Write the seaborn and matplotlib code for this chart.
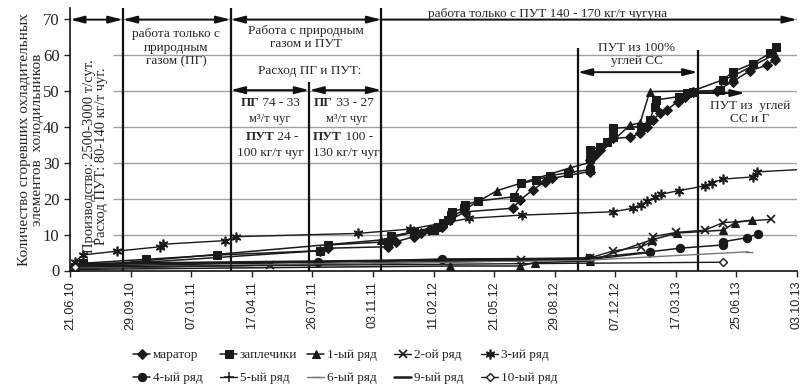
import pandas as pd
import matplotlib
matplotlib.use('Agg')
import matplotlib.pyplot as plt
import matplotlib.dates as mdates
import seaborn as sns

start = pd.Timestamp('2010-06-21')

# day offsets (from 21.06.10) and cumulative number of burnt cooling elements
marator_days = [8, 413, 426, 525, 538, 568, 579, 592, 614, 627, 652, 731, 743, 764, 784, 795,
                858, 858, 866, 875, 896, 924, 941, 952, 962, 974, 985, 1003, 1015, 1028, 1068,
                1094, 1122, 1150, 1163]
marator_vals = [1, 5.5, 6.2, 6.6, 8, 9.4, 10.4, 11.2, 12.2, 14, 16.3, 17.3, 19.6, 22.4, 24.7, 25.6,
                27.5, 30.7, 32, 33.5, 36.7, 37, 38.1, 40, 41.8, 43.7, 44.6, 46.9, 48.3, 49.7, 50,
                52.5, 55.5, 57, 58.5]

zaplechiki_days = [8, 21, 125, 243, 413, 426, 525, 530, 568, 601, 607, 615, 624, 629, 631, 650,
                   652, 673, 733, 745, 769, 792, 822, 858, 858, 858, 875, 886, 896, 896, 943, 957,
                   965, 968, 1005, 1018, 1028, 1073, 1078, 1094, 1127, 1155, 1166]
zaplechiki_vals = [1, 2, 3.1, 4.3, 5.5, 7.1, 8, 9.5, 10.8, 11.2, 12.2, 13.1, 14, 15.4, 16.3, 17.3,
                   18.2, 19.3, 20.5, 24.2, 25.1, 26.3, 27.2, 28, 31, 33.5, 34.4, 35.8, 37.2, 39.5, 40,
                   41.8, 45.5, 47.4, 48.3, 49.2, 49.7, 50.1, 52.9, 55.2, 57.5, 60.3, 62.2]

# upper line with triangle markers (no legend entry in the source)
upper_days = [8, 514, 600, 705, 825, 858, 924, 941, 957, 1028, 1094, 1163]
upper_vals = [1, 8.5, 12, 22.2, 28.5, 30, 40.4, 41, 49.7, 49.9, 54, 60]

row1_days = [8, 627, 743, 767, 858, 960, 1002, 1078, 1098, 1125]
row1_vals = [0.3, 1.25, 1.25, 2.2, 2.6, 8.5, 10.4, 11.2, 13.3, 14]

row2_days = [8, 330, 744, 858, 896, 943, 960, 962, 1001, 1048, 1078, 1157]
row2_vals = [0.7, 1.5, 2.9, 3.5, 5.4, 6.6, 8, 9.4, 10.6, 11.2, 13.3, 14.2]

row3_days = [8, 21, 78, 149, 154, 256, 274, 475, 561, 659, 746, 896, 929, 943, 953, 965, 976,
             1005, 1048, 1059, 1078, 1127, 1134, 1200]
row3_vals = [2.4, 4.3, 5.4, 6.6, 7.3, 8.3, 9.4, 10.3, 11.5, 14.5, 15.4, 16.3, 17.3, 18.2, 19.3,
             20.3, 21.2, 22.2, 23.5, 24.4, 25.4, 26, 27.4, 28]

row4_days = [8, 410, 614, 856, 957, 1007, 1078, 1078, 1117, 1135]
row4_vals = [1.2, 2.3, 3.2, 3.4, 5.2, 6.2, 7.1, 8, 9.1, 10.1]

row5_days = [8, 858, 957]
row5_vals = [0.6, 3.0, 5.0]

row6_days = [8, 858, 1120]
row6_vals = [0.8, 2.9, 5.2]

row9_days = [8, 858]
row9_vals = [1.8, 3.3]

row10_days = [8, 1078]
row10_vals = [1.0, 2.3]

legend_order = ['маратор', 'заплечики', '1-ый ряд', '2-ой ряд', '3-ий ряд',
                '4-ый ряд', '5-ый ряд', '6-ый ряд', '9-ый ряд', '10-ый ряд']

series = [
    ('маратор', marator_days, marator_vals),
    ('заплечики', zaplechiki_days, zaplechiki_vals),
    ('_upper', upper_days, upper_vals),
    ('1-ый ряд', row1_days, row1_vals),
    ('2-ой ряд', row2_days, row2_vals),
    ('3-ий ряд', row3_days, row3_vals),
    ('4-ый ряд', row4_days, row4_vals),
    ('5-ый ряд', row5_days, row5_vals),
    ('6-ый ряд', row6_days, row6_vals),
    ('9-ый ряд', row9_days, row9_vals),
    ('10-ый ряд', row10_days, row10_vals),
]

ink = '#1a1a1a'
styles = {
    'маратор': dict(marker='D', markersize=5, lw=1.1),
    'заплечики': dict(marker='s', markersize=6, lw=1.1),
    '_upper': dict(marker='^', markersize=6, lw=1.1),
    '1-ый ряд': dict(marker='^', markersize=5.5, lw=1.1),
    '2-ой ряд': dict(marker='x', markersize=6, mew=1.2, lw=1.0),
    '3-ий ряд': dict(marker=(6, 2, 0), markersize=7, mew=1.2, lw=1.0),
    '4-ый ряд': dict(marker='o', markersize=6, lw=1.1),
    '5-ый ряд': dict(marker='+', markersize=7, mew=1.1, lw=1.0),
    '6-ый ряд': dict(marker='_', markersize=6, mew=1.0, lw=1.0, color='#777777', mec='#777777'),
    '9-ый ряд': dict(marker='', lw=1.8),
    '10-ый ряд': dict(marker='D', markersize=4.5, mfc='white', mew=1.0, lw=1.0),
}

sns.set_theme(style='white')
plt.rcParams['font.family'] = ['Liberation Serif', 'DejaVu Serif']

fig = plt.figure(figsize=(8.06, 3.88), dpi=100)
ax = fig.add_axes([70 / 806, 117.5 / 388, 727 / 806, 262.4 / 388])

def d(n):
    return start + pd.Timedelta(days=n)

for name, days, vals in series:
    df = pd.DataFrame({'date': [d(n) for n in days], 'value': vals})
    kw = dict(styles[name])
    kw.setdefault('color', ink)
    kw.setdefault('mec', ink)
    if name == '3-ий ряд':
        kw['markevery'] = list(range(len(days) - 1))
    sns.lineplot(data=df, x='date', y='value', ax=ax, estimator=None, sort=False,
                 label=name, zorder=3, **kw)

handles, labels = ax.get_legend_handles_labels()
if ax.get_legend() is not None:
    ax.get_legend().remove()

ymax = 72.9
ax.set_xlim(d(0), d(1200))
ax.set_ylim(0, ymax)

# horizontal grid (hidden behind the rotated note at the left)
ax.hlines(range(10, 80, 10), d(71), d(1200), color='#a0a0a0', lw=1.0, zorder=0)

# vertical period separators
for day, top in [(87, ymax), (265, ymax), (395, 52.5), (514, ymax), (838, 61.8), (1036, 61.2)]:
    ax.vlines(d(day), 0, top, color='#111111', lw=1.6, zorder=2)

arrow2 = dict(arrowstyle='<|-|>,head_length=0.7,head_width=0.18', color='#111111', lw=1.4,
              shrinkA=0, shrinkB=0)
arrow1 = dict(arrowstyle='-|>,head_length=0.7,head_width=0.18', color='#111111', lw=1.4,
              shrinkA=0, shrinkB=0)
for a, b, y in [(0, 87, 69.7), (87, 265, 69.7), (265, 514, 69.7),
                (265, 395, 50.1), (395, 514, 50.1), (838, 1036, 55.1)]:
    ax.annotate('', xy=(d(b), y), xytext=(d(a), y), arrowprops=arrow2, zorder=4)
for a, b, y in [(514, 1200, 69.7), (1036, 1114, 49.3)]:
    ax.annotate('', xy=(d(b), y), xytext=(d(a), y), arrowprops=arrow1, zorder=4)

fs = 9.5
ax.text(d(175), 61.9, 'работа только с\nприродным\nгазом (ПГ)', ha='center', va='center',
        fontsize=fs, linespacing=1.15)
ax.text(d(390), 64.7, 'Работа с природным\nгазом и ПУТ', ha='center', va='center',
        fontsize=fs, linespacing=1.15)
ax.text(d(396), 55.4, 'Расход ПГ и ПУТ:', ha='center', va='center', fontsize=fs)
ax.text(d(789), 71.3, 'работа только с ПУТ 140 - 170 кг/т чугуна', ha='center', va='center',
        fontsize=fs)
ax.text(d(936), 60.0, 'ПУТ из 100%\nуглей СС', ha='center', va='center', fontsize=fs,
        linespacing=1.15)
ax.text(d(1122), 43.9, 'ПУТ из  углей\nСС и Г', ha='center', va='center', fontsize=fs,
        linespacing=1.15)

# two consumption boxes with bold prefixes
for split1, split3, center, l1, l3, l4 in [
        (312, 337, 330, ' 74 - 33', ' 24 -', '100 кг/т чуг'),
        (434, 449, 456, ' 33 - 27', ' 100 -', '130 кг/т чуг')]:
    ax.text(d(split1), 46.5, 'ПГ', ha='right', va='center', fontsize=fs, fontweight='bold')
    ax.text(d(split1), 46.5, l1, ha='left', va='center', fontsize=fs)
    ax.text(d(center), 42.2, 'м³/т чуг', ha='center', va='center', fontsize=fs - 0.5)
    ax.text(d(split3), 37.1, 'ПУТ', ha='right', va='center', fontsize=fs, fontweight='bold')
    ax.text(d(split3), 37.1, l3, ha='left', va='center', fontsize=fs)
    ax.text(d(center), 32.6, l4, ha='center', va='center', fontsize=fs)

ax.text(d(42), 31.8, 'Производство: 2500-3000 т/сут.\nРасход ПУТ: 80-140 кг/т чуг.',
        rotation=90, ha='center', va='center', fontsize=10.5, linespacing=0.95)

fig.text(31 / 806, 1 - 140 / 388, 'Количество сгоревших охладительных\nэлементов  холодильников',
         rotation=90, ha='center', va='center', fontsize=11, linespacing=1.0)

ticks = pd.date_range(start, periods=13, freq='100D')
ax.set_xticks(ticks)
ax.xaxis.set_major_formatter(mdates.DateFormatter('%d.%m.%y'))
ax.set_yticks(range(0, 80, 10))
ax.tick_params(axis='x', rotation=90, length=4, width=1, labelsize=9, direction='out',
               bottom=True, colors='#222222')
ax.tick_params(axis='y', length=4, width=1, labelsize=12, direction='out', left=True,
               colors='#222222')
for lab in ax.get_xticklabels():
    lab.set_fontfamily('Liberation Sans')
ax.set_xlabel('')
ax.set_ylabel('')
for s in ['top', 'right']:
    ax.spines[s].set_visible(False)
for s in ['left', 'bottom']:
    ax.spines[s].set_color('#111111')
    ax.spines[s].set_linewidth(1.2)

# legend laid out as an evenly spaced 2 x 5 table
hmap = dict(zip(labels, handles))
for i, name in enumerate(legend_order):
    col, row = i % 5, i // 5
    fig.legend([hmap[name]], [name], loc='center left',
               bbox_to_anchor=((133 + 87 * col) / 806, 1 - (355 + 23 * row) / 388),
               frameon=False, fontsize=9.5, handlelength=1.3, handletextpad=0.2,
               borderpad=0, borderaxespad=0)

fig.savefig('out.png', dpi=100)
